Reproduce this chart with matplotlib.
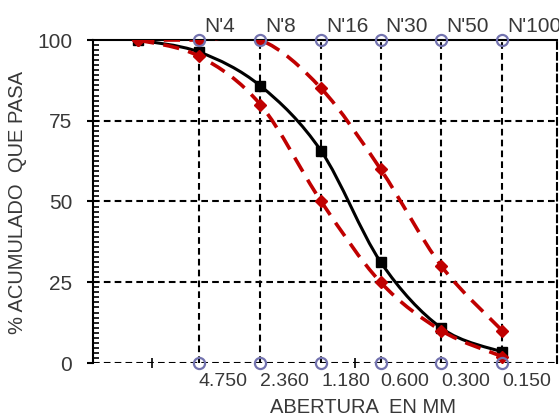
import matplotlib
matplotlib.use("Agg")
import matplotlib.pyplot as plt
import numpy as np
from matplotlib.path import Path
from matplotlib.patches import PathPatch
from matplotlib.ticker import MultipleLocator, FixedLocator, NullFormatter

plt.rcParams['font.family'] = ['Liberation Sans', 'DejaVu Sans']

# sieve openings (mm) and names
sizes = [9.5, 4.75, 2.36, 1.18, 0.6, 0.3, 0.15]
sieve_sizes = [4.75, 2.36, 1.18, 0.6, 0.3, 0.15]
sieve_labels = ['4.750', '2.360', '1.180', '0.600', '0.300', '0.150']
sieve_names = ["N'4", "N'8", "N'16", "N'30", "N'50", "N'100"]

# % passing
curva = [100, 96.3, 85.8, 65.6, 31.3, 10.8, 3.4]
lim_inf = [100, 95, 80, 50, 25, 10, 2]
lim_sup = [100, 100, 100, 85, 60, 30, 10]

RED = '#C00000'
BLUE = '#7272AE'
TXT = '#383838'


def smooth_path(xs, ys):
    # excel-like smoothed line, built in log-x space
    pts = np.column_stack([np.log10(xs), ys]).astype(float)
    n = len(pts)
    verts = [pts[0]]
    codes = [Path.MOVETO]
    for i in range(n - 1):
        p0 = pts[max(i - 1, 0)]
        p1 = pts[i]
        p2 = pts[i + 1]
        p3 = pts[min(i + 2, n - 1)]
        verts += [p1 + (p2 - p0) / 6, p2 - (p3 - p1) / 6, p2]
        codes += [Path.CURVE4] * 3
    verts = np.array(verts)
    verts[:, 0] = 10 ** verts[:, 0]
    return Path(verts, codes)


fig = plt.figure(figsize=(5.59, 4.19), dpi=100)
ax = fig.add_axes([93 / 559, 1 - 363 / 419, (557 - 93) / 559, (363 - 40) / 419])

ax.set_xscale('log')
ax.set_xlim(15.89, 0.0804)
ax.set_ylim(0, 100)

# grid lines
for s in sieve_sizes:
    ax.plot([s, s], [0, 100], color='black', lw=1.5, ls=(0, (3.2, 2)), zorder=1)
for yv in [0, 25, 50, 75]:
    ax.axhline(yv, color='black', lw=1.5, ls=(0, (3.2, 2)), zorder=1)

ax.spines['bottom'].set_visible(False)
ax.spines['right'].set_linestyle((0, (3.2, 2)))
ax.spines['right'].set_linewidth(1.5)
ax.spines['top'].set_linewidth(1.5)
ax.spines['left'].set_linewidth(1.5)

# smoothed curves
ax.add_patch(PathPatch(smooth_path(sizes, curva), fill=False, ec='black', lw=2.2, zorder=3))
ax.plot(sizes, curva, ls='none', marker='s', ms=7, color='black', zorder=4)
for lim in [lim_inf, lim_sup]:
    ax.add_patch(PathPatch(smooth_path(sizes, lim), fill=False, ec=RED, lw=2.6,
                           ls=(0, (4.5, 2.6)), zorder=5))
    ax.plot(sizes, lim, ls='none', marker='D', ms=6.5, color=RED, zorder=6)

# sieve circles on top and bottom edges
for yv in [0, 100]:
    ax.plot(sieve_sizes, [yv] * len(sieve_sizes), ls='none', marker='o', ms=8,
            mfc='none', mec=BLUE, mew=1.6, clip_on=False, zorder=7)

# y axis ticks
ax.yaxis.set_major_locator(MultipleLocator(25))
ax.yaxis.set_minor_locator(MultipleLocator(25 / 16))
ax.tick_params(axis='y', which='major', direction='out', length=4, width=1.5,
               labelsize=15, labelcolor=TXT, pad=11)
ax.tick_params(axis='y', which='minor', direction='in', length=4, width=1.2)

# x axis: manual labels
ax.xaxis.set_major_locator(FixedLocator([8.1, 0.8]))
ax.xaxis.set_minor_locator(FixedLocator([]))
ax.xaxis.set_major_formatter(NullFormatter())
ax.xaxis.set_minor_formatter(NullFormatter())
ax.tick_params(axis='x', which='major', direction='inout', length=7, width=1.2)

for s, lab in zip(sieve_sizes, sieve_labels):
    ax.annotate(lab, (s, 0), xytext=(0, -16.5), textcoords='offset points',
                ha='left', va='baseline', fontsize=14, color=TXT, annotation_clip=False)
for s, lab in zip(sieve_sizes, sieve_names):
    ax.annotate(lab, (s, 100), xytext=(3.5, 6), textcoords='offset points',
                ha='left', va='baseline', fontsize=15, color=TXT, annotation_clip=False)

fig.text(363.5 / 559, 1 - 407 / 419, 'ABERTURA  EN MM', ha='center', va='center',
         fontsize=14.5, color=TXT)
fig.text(18 / 559, 1 - 202 / 419, '% ACUMULADO  QUE PASA', ha='center', va='center',
         rotation=90, fontsize=14.5, color=TXT)

fig.savefig('out.png', dpi=100)
